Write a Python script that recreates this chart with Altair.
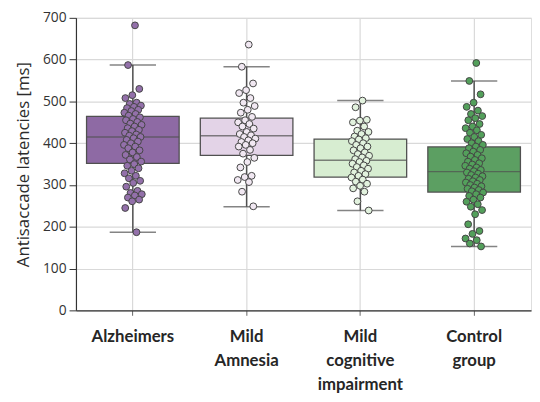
import altair as alt
import pandas as pd

groups = ["Alzheimers", "Mild Amnesia", "Mild cognitive impairment", "Control group"]

alz = [682, 587, 530, 515, 508, 497, 494, 490, 487, 484, 480, 477, 473, 470, 466,
       462, 458, 455, 451, 447, 444, 440, 436, 432, 429, 425, 421, 418, 415, 412,
       408, 404, 400, 396, 392, 388, 383, 378, 372, 367, 361, 356, 350, 346, 340,
       334, 328, 322, 316, 310, 305, 296, 286, 281, 278, 275, 270, 265, 261, 245, 187]
amn = [636, 583, 543, 527, 520, 508, 497, 489, 480, 473, 463, 455, 450, 446, 440,
       435, 427, 422, 419, 415, 411, 407, 403, 400, 396, 392, 384, 375, 365, 355,
       342, 322, 319, 312, 307, 284, 249]
mci = [502, 486, 456, 454, 450, 440, 430, 427, 422, 416, 412, 409, 405, 400, 396,
       392, 388, 383, 378, 374, 370, 366, 362, 358, 355, 351, 347, 343, 339, 334,
       330, 326, 322, 318, 313, 308, 303, 298, 292, 284, 261, 239]
ctrl = [592, 549, 517, 497, 487, 478, 470, 465, 460, 455, 446, 440, 436, 431, 425,
        420, 415, 410, 405, 400, 396, 392, 388, 384, 380, 376, 372, 368, 364, 360,
        356, 352, 349, 346, 342, 339, 336, 333, 330, 327, 324, 321, 318, 315, 312,
        309, 306, 303, 300, 297, 294, 291, 288, 285, 282, 278, 274, 270, 265, 260,
        254, 248, 240, 230, 206, 190, 183, 172, 168, 160, 153]

q1 = [352, 371, 319, 283]
med = [415, 418, 359, 332]
q3 = [464, 460, 410, 391]
lo = [187, 248, 239, 153]
hi = [587, 583, 502, 549]

box_colors = ["#8e6aa4", "#e3d3e7", "#d7edd1", "#5c9f62"]
pt_colors = ["#9370aa", "#f1e8f2", "#e2f2de", "#53a05b"]

series = [alz, amn, mci, ctrl]
points = pd.DataFrame({
    "group": [g for g, s in zip(groups, series) for _ in s],
    "latency": [v for s in series for v in s],
})
summary = pd.DataFrame({"group": groups, "q1": q1, "median": med, "q3": q3,
                        "lo": lo, "hi": hi})

line_col = "#505050"

x_enc = alt.X(
    "group:N", sort=groups,
    scale=alt.Scale(domain=groups, paddingInner=0, paddingOuter=0),
    axis=alt.Axis(title=None, labelExpr="split(datum.label, ' ')", labelAngle=0,
                  labelFont="Lato", labelFontWeight="bold", labelFontSize=17,
                  labelColor="#262626", labelLineHeight=24, labelPadding=14,
                  tickSize=5, tickColor="#666", domainColor="#333", domainWidth=1.2,
                  grid=True, gridColor="#d9d9d9", gridWidth=1.2, bandPosition=0.5),
)

y_scale = alt.Scale(domain=[0, 700], nice=False)
y_axis = alt.Axis(title="Antisaccade latencies [ms]", values=[0, 100, 200, 300, 400, 500, 600, 700],
                  labelFont="Open Sans", labelFontSize=14, labelColor="#333",
                  labelPadding=3, tickSize=7, tickColor="#333",
                  domainColor="#333", domainWidth=1.2,
                  titleFont="Open Sans", titleFontSize=17, titleFontWeight="normal",
                  titleColor="#2b2b2b", titlePadding=10,
                  grid=True, gridColor="#d9d9d9", gridWidth=1.2)


def Y(field):
    return alt.Y(f"{field}:Q", scale=y_scale, axis=y_axis)


base = alt.Chart(summary)

box = base.mark_bar(size=94, stroke=line_col, strokeWidth=1.3).encode(
    x=x_enc, y=Y("q1"), y2="q3",
    fill=alt.Fill("group:N", scale=alt.Scale(domain=groups, range=box_colors), legend=None),
)
wlo = base.mark_rule(color=line_col, strokeWidth=1.5).encode(x=x_enc, y=Y("lo"), y2="q1")
whi = base.mark_rule(color=line_col, strokeWidth=1.5).encode(x=x_enc, y=Y("q3"), y2="hi")
cap_lo = base.mark_tick(color=line_col, size=47, thickness=1.5, orient="horizontal").encode(x=x_enc, y=Y("lo"))
cap_hi = base.mark_tick(color=line_col, size=47, thickness=1.5, orient="horizontal").encode(x=x_enc, y=Y("hi"))
median = base.mark_tick(color=line_col, size=94, thickness=1.5, orient="horizontal").encode(x=x_enc, y=Y("median"))

pts = alt.Chart(points).transform_window(
    rn="row_number()", groupby=["group"]
).transform_calculate(
    jit="((datum.rn * 0.618034) % 1 - 0.5) * 0.32"
).mark_circle(size=48, stroke="#454545", strokeWidth=1, opacity=1).encode(
    x=x_enc,
    xOffset=alt.XOffset("jit:Q", scale=alt.Scale(domain=[-1, 1])),
    y=Y("latency"),
    fill=alt.Fill("group:N", scale=alt.Scale(domain=groups, range=pt_colors), legend=None),
)

chart = alt.layer(box, wlo, whi, cap_lo, cap_hi, median, pts).resolve_scale(
    fill="independent"
).properties(
    width=462, height=297,
    padding={"left": 69, "top": 7, "right": 1, "bottom": 88},
    autosize=alt.AutoSizeParams(type="none"),
).configure_view(stroke=None).configure(background="white")

chart.save("out.html", embed_options={"renderer": "svg", "actions": False})
